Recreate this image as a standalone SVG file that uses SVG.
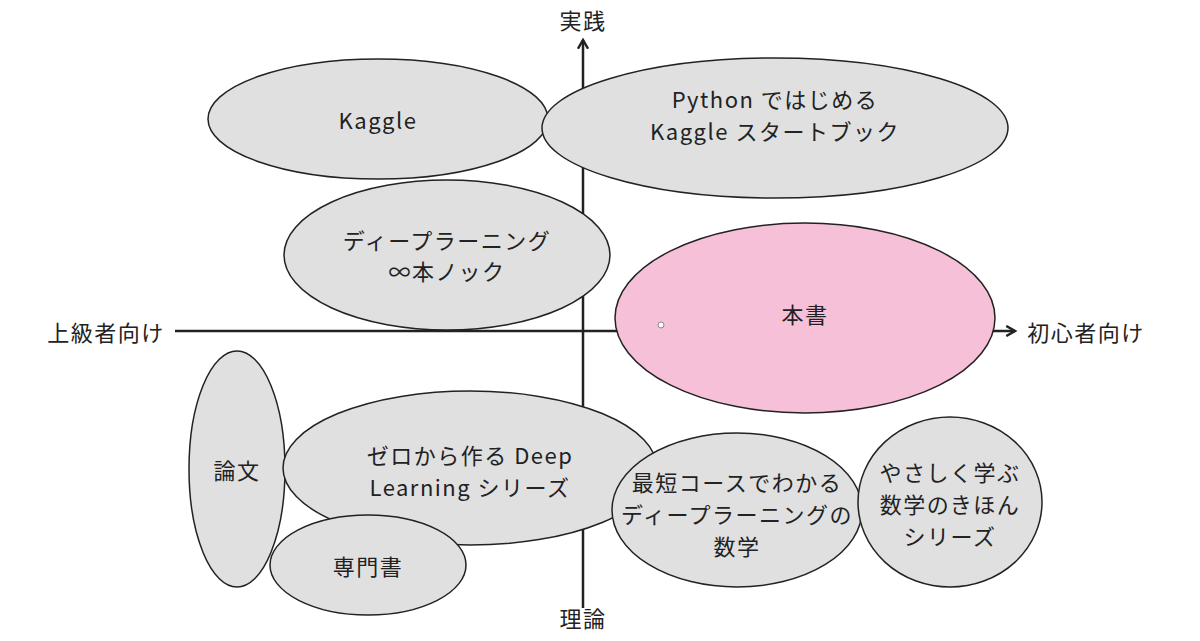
<svg xmlns="http://www.w3.org/2000/svg" width="1200" height="641" viewBox="0 0 1200 641">
<style>
.n{fill:#e0e0e0;stroke:#222;stroke-width:1.5}
.p{fill:#f7c0d9;stroke:#222;stroke-width:1.5}
text{font-family:"Noto Sans CJK JP","Noto Sans",sans-serif;font-size:22px;letter-spacing:1.5px;fill:#222;text-anchor:middle;dominant-baseline:central}
.ax{stroke:#222;stroke-width:2.5;fill:none}
</style>
<defs><marker id="a" viewBox="0 0 10 10" refX="8" refY="5" markerWidth="5" markerHeight="5" orient="auto"><path d="M1,1 L8,5 L1,9" fill="none" stroke="#222" stroke-width="2"/></marker></defs>
<g id="axes">
<line class="ax" x1="583" y1="608" x2="583" y2="40" marker-end="url(#a)"/>
<line class="ax" x1="175" y1="331" x2="1015" y2="331" marker-end="url(#a)"/>
<text x="583" y="19">実践</text><text x="583" y="617">理論</text>
<text x="106" y="331">上級者向け</text><text x="1086" y="331">初心者向け</text>
</g>
<g id="kaggle"><ellipse class="n" cx="378" cy="119" rx="170" ry="60"/><text x="378" y="119">Kaggle</text></g>
<g id="python"><ellipse class="n" cx="775" cy="128" rx="233" ry="70"/><text x="775" y="98">Python ではじめる</text><text x="775" y="130">Kaggle スタートブック</text></g>
<g id="deep"><ellipse class="n" cx="447" cy="255" rx="163" ry="75"/><text x="447" y="239">ディープラーニング</text><text x="447" y="270">∞本ノック</text></g>
<g id="honsho"><ellipse class="p" cx="805" cy="318" rx="190" ry="95"/><text x="805" y="313">本書</text><circle cx="661" cy="325" r="3" fill="#fff" stroke="#888"/></g>
<g id="ronbun"><ellipse class="n" cx="237" cy="469" rx="48" ry="118"/><text x="237" y="469">論文</text></g>
<g id="zero"><ellipse class="n" cx="470" cy="468" rx="187" ry="77"/><text x="470" y="454">ゼロから作る Deep</text><text x="470" y="486">Learning シリーズ</text></g>
<g id="senmon"><ellipse class="n" cx="368" cy="565" rx="98" ry="50"/><text x="368" y="565">専門書</text></g>
<g id="saitan"><ellipse class="n" cx="737" cy="510" rx="125" ry="77"/><text x="737" y="481">最短コースでわかる</text><text x="737" y="513">ディープラーニングの</text><text x="737" y="545">数学</text></g>
<g id="yasashiku"><ellipse class="n" cx="950" cy="502" rx="92" ry="85"/><text x="950" y="471">やさしく学ぶ</text><text x="950" y="503">数学のきほん</text><text x="950" y="535">シリーズ</text></g>
</svg>
